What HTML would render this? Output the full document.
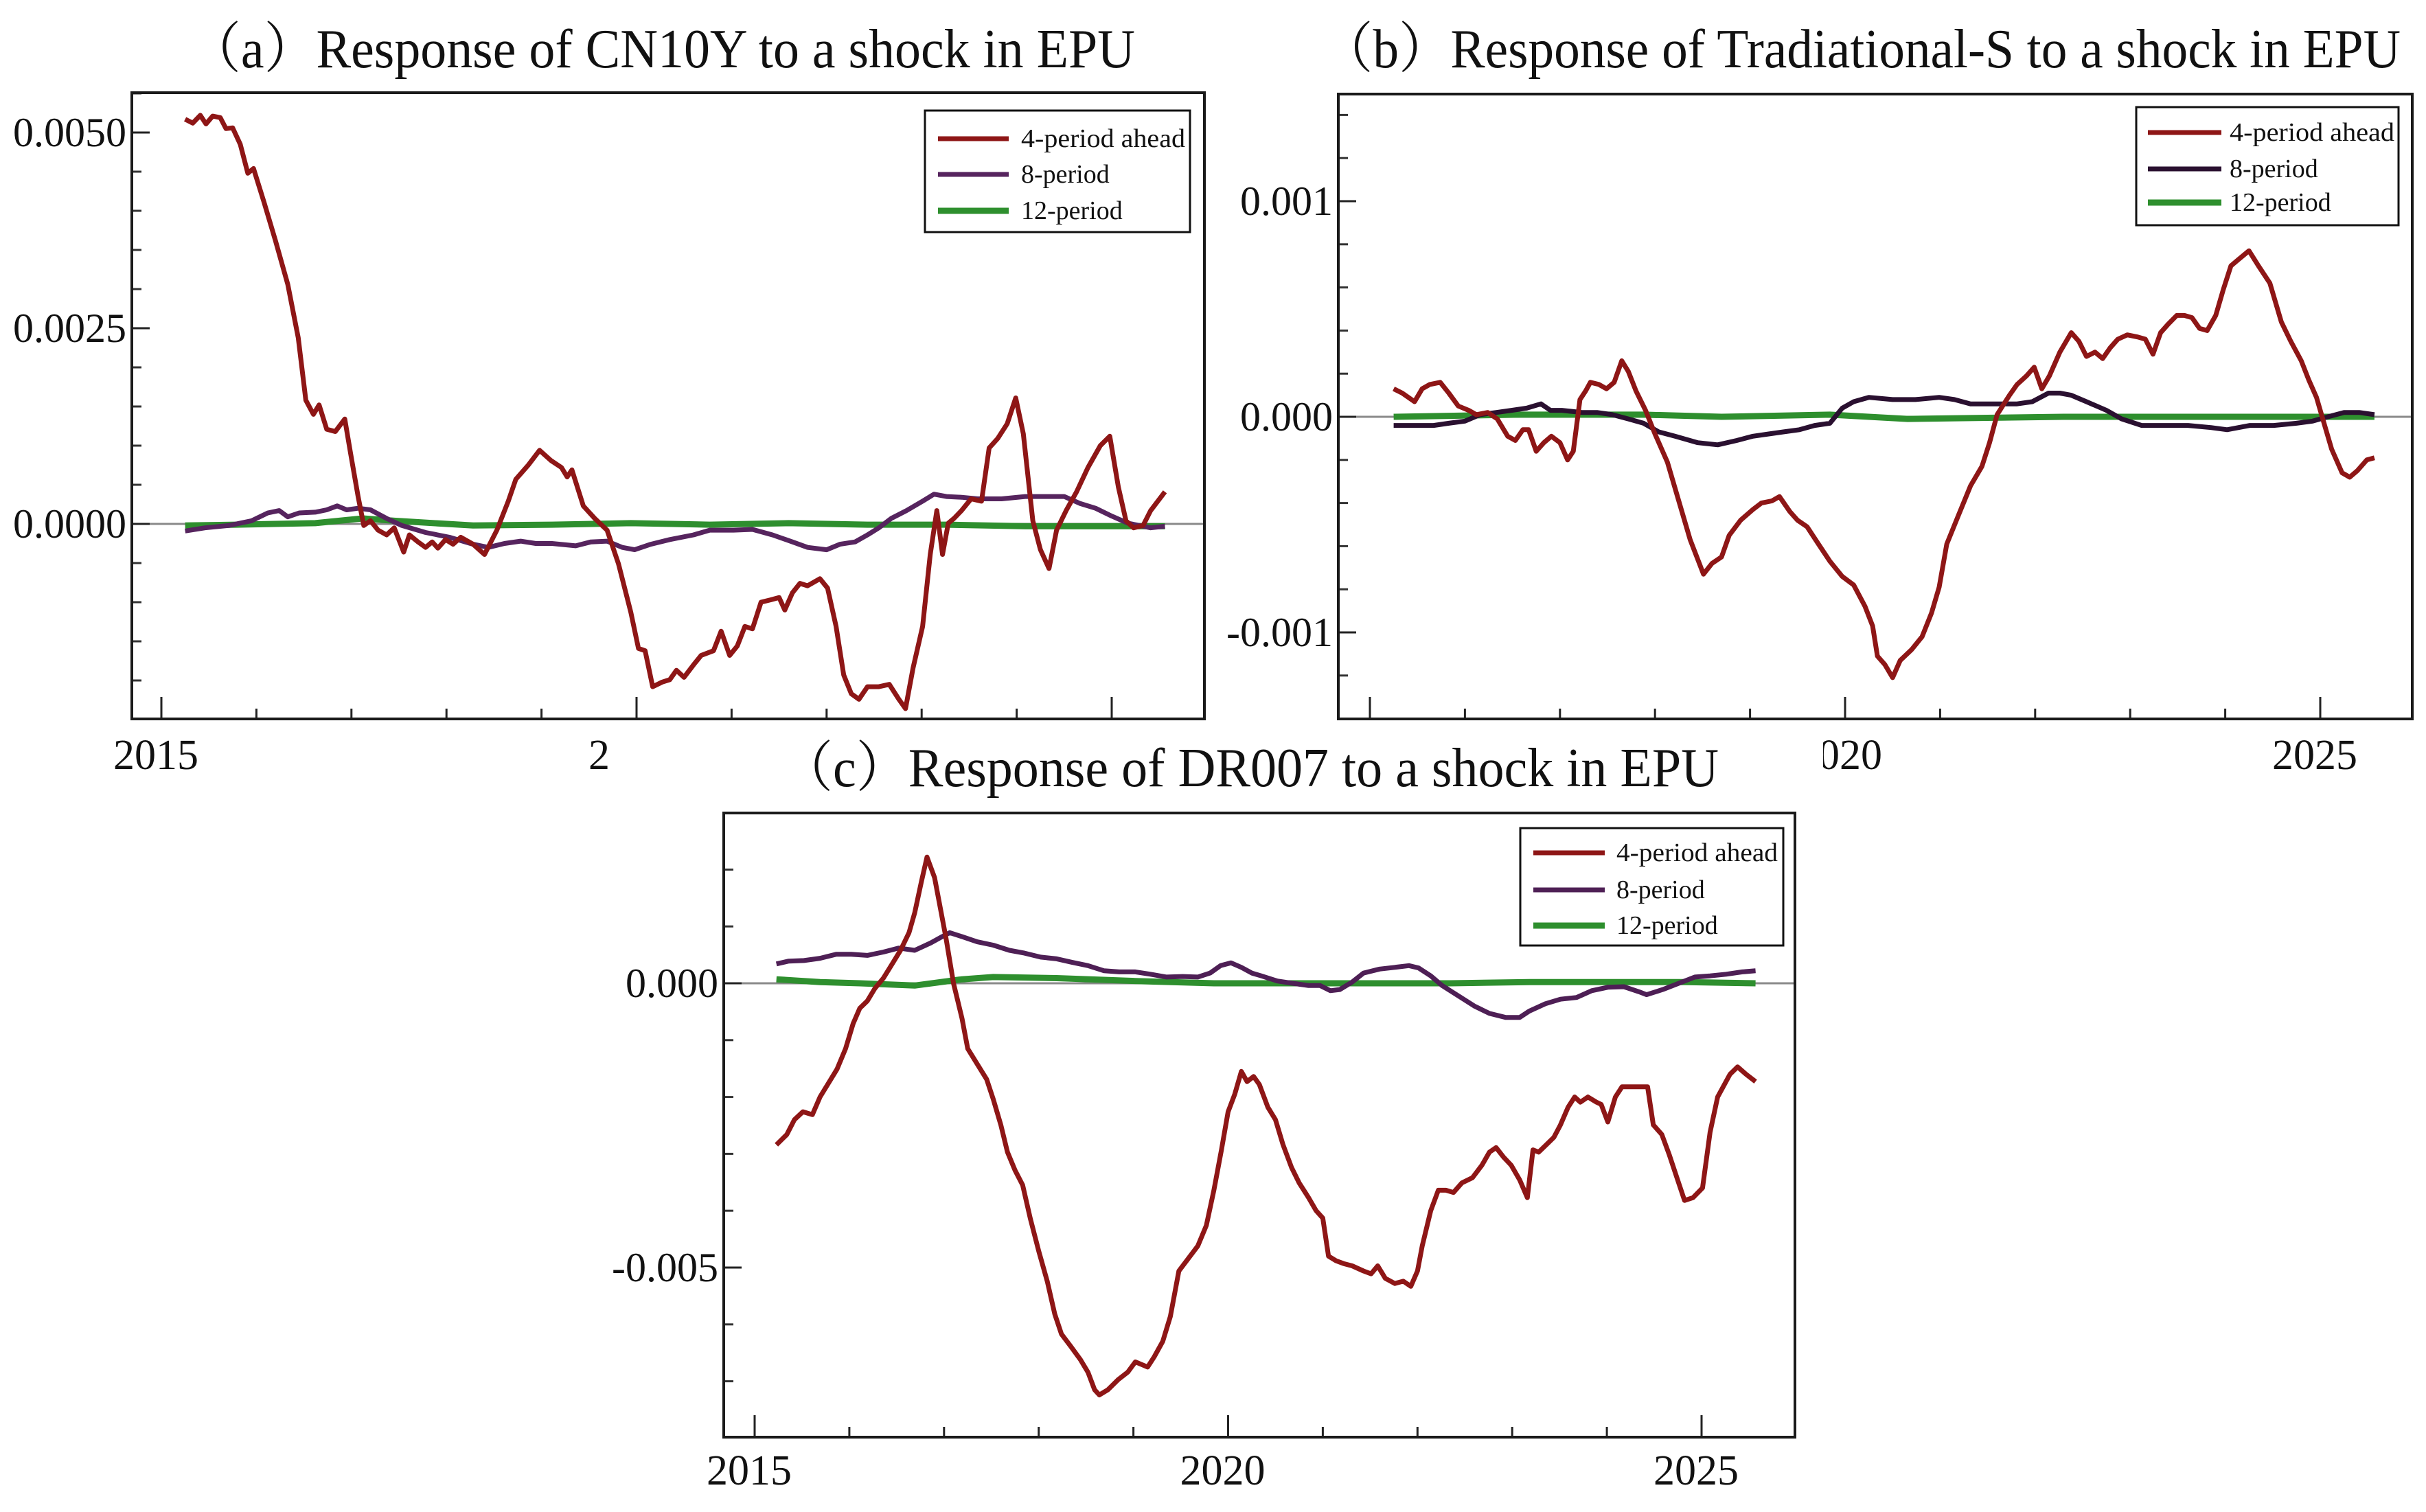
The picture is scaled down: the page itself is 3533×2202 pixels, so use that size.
<!DOCTYPE html>
<html><head><meta charset="utf-8"><style>
html,body{margin:0;padding:0;background:#fff;}
svg{display:block;}
text{font-family:"Liberation Serif","Noto Serif CJK SC",serif;fill:#111;}
</style></head><body>
<svg id="fig" width="3533" height="2202" viewBox="0 0 3533 2202" xmlns="http://www.w3.org/2000/svg"></svg>
<script>
// ===== Data (time = years since 2015, values in units of 1e-4) =====
const aRedT=[.25,.33,.41,.47,.54,.62,.68,.75,.83,.91,.97,1.08,1.20,1.33,1.44,1.52,1.60,1.66,1.74,1.83,1.93,1.99,2.07,2.13,2.20,2.28,2.37,2.45,2.55,2.61,2.70,2.78,2.85,2.91,2.99,3.07,3.15,3.28,3.40,3.53,3.65,3.73,3.86,3.98,4.10,4.21,4.27,4.32,4.44,4.56,4.69,4.81,4.94,5.02,5.09,5.17,5.27,5.35,5.42,5.50,5.60,5.68,5.81,5.89,5.98,6.06,6.14,6.22,6.31,6.41,6.50,6.56,6.64,6.72,6.80,6.93,7.01,7.10,7.18,7.26,7.34,7.43,7.55,7.66,7.76,7.83,7.91,8.01,8.09,8.16,8.22,8.28,8.34,8.42,8.52,8.63,8.71,8.80,8.90,8.99,9.07,9.17,9.25,9.34,9.42,9.52,9.63,9.75,9.88,9.98,10.07,10.15,10.23,10.33,10.41,10.56];
const aRedV=[51.7,51.2,52.2,51.1,52.1,51.9,50.5,50.6,48.5,44.8,45.4,41.1,36.2,30.6,23.8,15.8,14.0,15.2,12.1,11.8,13.4,9.1,3.5,-0.2,0.4,-0.8,-1.4,-0.5,-3.6,-1.4,-2.3,-3.0,-2.3,-3.1,-2.0,-2.6,-1.7,-2.6,-3.9,-0.8,2.9,5.7,7.5,9.4,8.1,7.2,6.0,6.9,2.3,0.7,-0.8,-5.1,-11.3,-15.9,-16.2,-20.8,-20.2,-19.9,-18.7,-19.6,-18.0,-16.8,-16.2,-13.7,-16.8,-15.6,-13.1,-13.4,-10.0,-9.7,-9.4,-11.0,-8.8,-7.6,-7.9,-7.0,-8.2,-13.1,-19.3,-21.7,-22.4,-20.8,-20.8,-20.5,-22.4,-23.6,-18.4,-13.1,-3.9,1.7,-3.9,0.1,0.7,1.7,3.2,2.9,9.7,10.9,12.8,16.1,11.5,0.4,-3.3,-5.7,-0.8,1.7,4.1,7.2,10.0,11.2,4.7,0.4,-0.5,-0.2,1.7,4.1];
const aPurT=[.25,.46,.71,.95,1.12,1.24,1.33,1.45,1.62,1.74,1.85,1.95,2.07,2.20,2.37,2.53,2.78,3.03,3.28,3.44,3.61,3.78,3.94,4.11,4.36,4.52,4.69,4.85,4.98,5.15,5.35,5.60,5.77,6.02,6.22,6.43,6.64,6.80,7.00,7.14,7.30,7.43,7.55,7.68,7.84,8.01,8.13,8.26,8.42,8.59,8.84,9.09,9.34,9.50,9.67,9.83,10.00,10.17,10.41,10.56];
const aPurV=[-0.9,-0.5,-0.2,0.4,1.4,1.7,0.9,1.4,1.5,1.8,2.3,1.8,2.0,1.8,0.7,-0.2,-1.1,-1.7,-2.6,-3.0,-2.5,-2.2,-2.5,-2.5,-2.8,-2.3,-2.2,-3.0,-3.3,-2.6,-2.0,-1.4,-0.8,-0.8,-0.7,-1.4,-2.3,-3.0,-3.3,-2.6,-2.3,-1.4,-0.5,0.7,1.7,2.9,3.8,3.5,3.4,3.2,3.2,3.5,3.5,3.5,2.6,2.0,1.0,0.1,-0.5,-0.3];
const aGrnT=[.25,.79,1.62,2.12,2.45,3.28,4.11,4.94,5.77,6.60,7.43,8.26,9.09,9.92,10.56];
const aGrnV=[-0.2,-0.1,0.1,0.7,0.4,-0.2,-0.1,0.1,-0.1,0.1,-0.1,-0.1,-0.3,-0.3,-0.3];

const bRedT=[.25,.34,.47,.55,.63,.74,.83,.93,1.04,1.12,1.24,1.34,1.45,1.53,1.61,1.67,1.75,1.83,1.91,2.00,2.08,2.14,2.21,2.27,2.32,2.41,2.49,2.57,2.65,2.72,2.80,2.90,3.00,3.13,3.25,3.37,3.51,3.60,3.70,3.78,3.90,4.03,4.12,4.23,4.31,4.42,4.50,4.60,4.72,4.84,4.97,5.09,5.21,5.29,5.34,5.42,5.50,5.58,5.70,5.81,5.91,5.99,6.07,6.19,6.32,6.44,6.52,6.60,6.73,6.81,6.91,6.99,7.07,7.15,7.26,7.38,7.46,7.54,7.63,7.71,7.79,7.87,7.97,8.08,8.16,8.24,8.32,8.40,8.49,8.57,8.65,8.73,8.81,8.90,8.98,9.06,9.14,9.25,9.35,9.47,9.59,9.69,9.80,9.88,9.96,10.04,10.12,10.23,10.31,10.39,10.49,10.57];
const bRedV=[1.3,1.1,0.7,1.3,1.5,1.6,1.1,0.5,0.3,0.1,0.2,-0.1,-0.9,-1.1,-0.6,-0.6,-1.6,-1.2,-0.9,-1.2,-2.0,-1.6,0.8,1.2,1.6,1.5,1.3,1.6,2.6,2.1,1.2,0.3,-0.8,-2.1,-3.9,-5.7,-7.3,-6.8,-6.5,-5.5,-4.8,-4.3,-4.0,-3.9,-3.7,-4.4,-4.8,-5.1,-5.9,-6.7,-7.4,-7.8,-8.8,-9.7,-11.1,-11.5,-12.1,-11.3,-10.8,-10.2,-9.1,-7.9,-5.9,-4.6,-3.2,-2.3,-1.2,0.1,1.0,1.5,1.9,2.3,1.3,1.9,3.0,3.9,3.5,2.8,3.0,2.7,3.2,3.6,3.8,3.7,3.6,2.9,3.9,4.3,4.7,4.7,4.6,4.1,4.0,4.7,5.9,7.0,7.3,7.7,7.0,6.2,4.4,3.5,2.6,1.7,0.9,-0.3,-1.5,-2.6,-2.8,-2.5,-2.0,-1.9];
const bPurT=[.25,.67,.83,1.00,1.16,1.33,1.49,1.65,1.80,1.90,2.02,2.23,2.39,2.55,2.72,2.88,3.04,3.21,3.45,3.66,3.86,4.03,4.19,4.35,4.52,4.68,4.84,4.97,5.09,5.25,5.50,5.74,5.99,6.15,6.32,6.48,6.64,6.81,6.97,7.14,7.26,7.38,7.54,7.75,7.91,8.12,8.36,8.61,8.85,9.02,9.26,9.51,9.75,9.92,10.08,10.25,10.41,10.57];
const bPurV=[-0.4,-0.4,-0.3,-0.2,0.1,0.2,0.3,0.4,0.6,0.3,0.3,0.2,0.2,0.1,-0.1,-0.3,-0.7,-0.9,-1.2,-1.3,-1.1,-0.9,-0.8,-0.7,-0.6,-0.4,-0.3,0.4,0.7,0.9,0.8,0.8,0.9,0.8,0.6,0.6,0.6,0.6,0.7,1.1,1.1,1.0,0.7,0.3,-0.1,-0.4,-0.4,-0.4,-0.5,-0.6,-0.4,-0.4,-0.3,-0.2,0.0,0.2,0.2,0.1];
const bGrnT=[.25,1.57,2.88,3.70,4.84,5.66,7.30,8.94,10.57];
const bGrnV=[0,0.1,0.1,0,0.1,-0.1,0,0,0];

const cRedT=[.23,.34,.42,.51,.61,.69,.79,.87,.96,1.04,1.11,1.19,1.27,1.36,1.46,1.54,1.63,1.69,1.76,1.82,1.90,1.96,2.02,2.10,2.19,2.25,2.35,2.45,2.52,2.60,2.67,2.75,2.83,2.91,3.00,3.09,3.17,3.24,3.34,3.44,3.52,3.59,3.64,3.73,3.84,3.94,4.02,4.08,4.15,4.22,4.31,4.39,4.48,4.58,4.68,4.77,4.85,4.93,5.00,5.07,5.14,5.20,5.27,5.33,5.42,5.50,5.58,5.67,5.75,5.85,5.93,6.00,6.06,6.14,6.22,6.31,6.43,6.51,6.58,6.66,6.76,6.85,6.93,7.00,7.05,7.14,7.22,7.30,7.38,7.47,7.58,7.68,7.76,7.83,7.91,7.99,8.08,8.16,8.22,8.28,8.36,8.44,8.51,8.59,8.66,8.72,8.80,8.89,8.94,9.01,9.09,9.16,9.26,9.43,9.49,9.58,9.66,9.74,9.82,9.91,10.01,10.09,10.17,10.30,10.38,10.47,10.57];
const cRedV=[-28.4,-26.6,-24.0,-22.6,-23.1,-20.0,-17.3,-15.1,-11.5,-7.1,-4.4,-3.1,-0.9,0.9,3.6,5.8,8.9,12.4,17.8,22.2,18.6,13.3,8.0,0,-6.2,-11.5,-14.2,-16.9,-20.4,-24.9,-29.7,-32.9,-35.5,-41.3,-47.1,-52.4,-58.2,-61.7,-63.9,-66.2,-68.4,-71.5,-72.4,-71.5,-69.7,-68.4,-66.6,-67.0,-67.5,-65.7,-63.0,-58.6,-50.6,-48.4,-46.2,-42.6,-36.4,-29.3,-22.6,-19.5,-15.5,-17.3,-16.4,-17.8,-21.8,-24.0,-28.4,-32.4,-35.1,-37.7,-40.0,-41.3,-48.0,-48.8,-49.3,-49.7,-50.6,-51.1,-49.7,-51.9,-52.8,-52.4,-53.3,-50.6,-46.2,-40.0,-36.4,-36.4,-36.8,-35.1,-34.2,-32.0,-29.7,-28.9,-30.6,-32.0,-34.6,-37.7,-29.3,-29.7,-28.4,-27.1,-24.9,-21.8,-20.0,-20.9,-20.0,-20.9,-21.3,-24.4,-20.0,-18.2,-18.2,-18.2,-24.9,-26.6,-30.2,-34.2,-38.2,-37.7,-36.0,-26.2,-20.0,-16.0,-14.7,-16.0,-17.3];
const cPurT=[.23,.36,.52,.69,.86,1.02,1.19,1.36,1.52,1.69,1.86,1.98,2.06,2.19,2.35,2.52,2.69,2.85,3.02,3.19,3.35,3.52,3.69,3.85,4.02,4.18,4.35,4.52,4.68,4.81,4.92,5.03,5.14,5.25,5.35,5.52,5.68,5.85,5.97,6.08,6.18,6.31,6.43,6.60,6.76,6.91,7.01,7.14,7.26,7.43,7.60,7.76,7.93,8.08,8.18,8.35,8.51,8.68,8.84,9.01,9.18,9.34,9.42,9.59,9.76,9.93,10.09,10.26,10.43,10.57];
const cPurV=[3.4,3.9,4.0,4.4,5.1,5.1,4.9,5.5,6.2,5.8,7.1,8.2,8.9,8.2,7.3,6.7,5.8,5.3,4.6,4.3,3.7,3.1,2.2,2.0,2.0,1.6,1.1,1.2,1.1,1.8,3.1,3.6,2.8,1.8,1.3,0.4,0,-0.4,-0.4,-1.3,-1.1,0.2,1.8,2.5,2.8,3.1,2.7,1.3,-0.4,-2.2,-4.0,-5.3,-6.0,-6.0,-4.9,-3.6,-2.8,-2.5,-1.3,-0.7,-0.6,-1.5,-2.0,-1.1,0,1.1,1.3,1.6,2.0,2.2];
const cGrnT=[.23,.69,1.11,1.69,2.19,2.52,3.19,4.02,4.85,5.68,6.51,7.35,8.18,9.01,9.84,10.57];
const cGrnV=[0.7,0.2,0,-0.4,0.7,1.1,0.9,0.4,0,0,0,0,0.2,0.2,0.2,0];

const legendLabels=["4-period ahead","8-period","12-period"];
const aYTicks=[0,25,50];      const aYLabels=["0.0000","0.0025","0.0050"];
const bYTicks=[-10,0,10];     const bYLabels=["-0.001","0.000","0.001"];
const cYTicks=[-50,0];        const cYLabels=["-0.005","0.000"];
const xYears=[2015,2016,2017,2018,2019,2020,2021,2022,2023,2024,2025];
const xLabelYears=[2015,2020,2025];

// ===== Drawing =====
const NS="http://www.w3.org/2000/svg";
const svg=document.getElementById('fig');
const RED="#8e1616", GRN="#2e8f2e";
function mk(tag,attrs,parent){const e=document.createElementNS(NS,tag);for(const k in attrs)e.setAttribute(k,attrs[k]);(parent||svg).appendChild(e);return e;}

function panel(P){
  const g=mk('g',{});
  
  
  if(P.bg){const r=mk('rect',{x:P.bg[0],y:P.bg[1],width:P.bg[2],height:P.bg[3],fill:'#fff'},g);
    
    }
  const X=t=>P.x0+t*P.px;
  const Y=v=>P.y0-v*P.py;
  const t=mk('text',{x:P.titleX,y:P.titleY,'font-size':80,textLength:P.titleW,lengthAdjust:'spacingAndGlyphs'},g);
  t.textContent=P.title;
  
  
  const z=mk('line',{x1:P.L,x2:P.R,y1:Y(0),y2:Y(0),stroke:'#8a8a8a','stroke-width':3},g);
  
  
  for(let v=P.minorFrom;v<=P.minorTo+1e-9;v+=P.minorStep){
    const y=Y(v); if(y<P.T||y>P.B)continue;
    const m=mk('line',{x1:P.L,x2:P.L+14,y1:y,y2:y,stroke:'#333','stroke-width':3},g);
    
    
  }
  P.yTicks.forEach((v,i)=>{
    const y=Y(v);
    const l=mk('line',{x1:P.L,x2:P.L+26,y1:y,y2:y,stroke:'#222','stroke-width':3},g);
    
    
    const tx=mk('text',{x:P.L-8,y:y+20,'font-size':60,'text-anchor':'end'},g);
    tx.textContent=P.yLabels[i];
    
    
  });
  xYears.forEach(yr=>{
    const x=X(yr-2015); if(x>P.R)return;
    const len=(xLabelYears.indexOf(yr)>=0)?32:15;
    const l=mk('line',{x1:x,x2:x,y1:P.B,y2:P.B-len,stroke:'#222','stroke-width':3},g);
    
    
  });
  xLabelYears.forEach(yr=>{
    const x=X(yr-2015);
    const tx=mk('text',{x:x-8,y:P.xLabY,'font-size':62,'text-anchor':'middle'},g);
    tx.textContent=String(yr);
    
    
  });
  const series=[[P.gT,P.gV,GRN,'series-12-period'],[P.pT,P.pV,P.purple,'series-8-period'],[P.rT,P.rV,RED,'series-4-period-ahead']];
  series.forEach(s=>{
    const d=s[0].map((tt,i)=>(i?'L':'M')+X(tt).toFixed(1)+' '+Y(s[1][i]).toFixed(1)).join(' ');
    const p=mk('path',{d:d,fill:'none',stroke:s[2],'stroke-width':s[2]===GRN?9:7,'stroke-linejoin':'round'},g);
    
    
  });
  const f=mk('rect',{x:P.L,y:P.T,width:P.R-P.L,height:P.B-P.T,fill:'none',stroke:'#1a1a1a','stroke-width':4},g);
  
  
  const lg=mk('g',{},g);
  
  
  mk('rect',{x:P.lg[0],y:P.lg[1],width:P.lg[2],height:P.lg[3],fill:'#fff',stroke:'#111','stroke-width':3},lg);
  const cols=[RED,P.purple,GRN];
  legendLabels.forEach((lab,i)=>{
    const yy=P.lgY[i];
    const e=mk('g',{},lg);
    
    
    mk('line',{x1:P.lgL[0],x2:P.lgL[1],y1:yy,y2:yy,stroke:cols[i],'stroke-width':i===2?9:7},e);
    const tx=mk('text',{x:P.lgL[2],y:yy+12,'font-size':38},e);
    if(i===0){tx.setAttribute('textLength',P.lgW);tx.setAttribute('lengthAdjust','spacingAndGlyphs');}
    tx.textContent=lab;
  });
}

panel({name:'panel-a-cn10y',L:192,R:1754,T:135,B:1047,x0:235,px:138.4,y0:763,py:11.4,
  title:'（a）Response of CN10Y to a shock in EPU',titleX:275,titleY:98,titleW:1378,
  yTicks:aYTicks,yLabels:aYLabels,minorFrom:-20,minorTo:55,minorStep:5,xLabY:1120,
  rT:aRedT,rV:aRedV,pT:aPurT,pV:aPurV,gT:aGrnT,gV:aGrnV,purple:'#56245e',
  lg:[1347,161,386,177],lgY:[202,254,307],lgL:[1366,1469,1487],lgW:239});
panel({name:'panel-b-traditional-s',L:1949,R:3513,T:137,B:1047,x0:1995,px:138.4,y0:607,py:31.4,
  title:'（b）Response of Tradiational-S to a shock in EPU',titleX:1924,titleY:98,titleW:1572,
  yTicks:bYTicks,yLabels:bYLabels,minorFrom:-14,minorTo:14,minorStep:2,xLabY:1120,
  rT:bRedT,rV:bRedV,pT:bPurT,pV:bPurV,gT:bGrnT,gV:bGrnV,purple:'#2a1030',
  lg:[3111,156,382,172],lgY:[193,246,295],lgL:[3128,3235,3247],lgW:240});
panel({name:'panel-c-dr007',bg:[885,1062,1770,1140],L:1054,R:2614,T:1184,B:2093,x0:1099,px:137.9,y0:1432,py:8.28,
  title:'（c）Response of DR007 to a shock in EPU',titleX:1137,titleY:1145,titleW:1366,
  yTicks:cYTicks,yLabels:cYLabels,minorFrom:-80,minorTo:20,minorStep:10,xLabY:2162,
  rT:cRedT,rV:cRedV,pT:cPurT,pV:cPurV,gT:cGrnT,gV:cGrnV,purple:'#4e1f55',
  lg:[2214,1206,383,171],lgY:[1242,1296,1348],lgL:[2233,2337,2354],lgW:235});
</script>
</body></html>
